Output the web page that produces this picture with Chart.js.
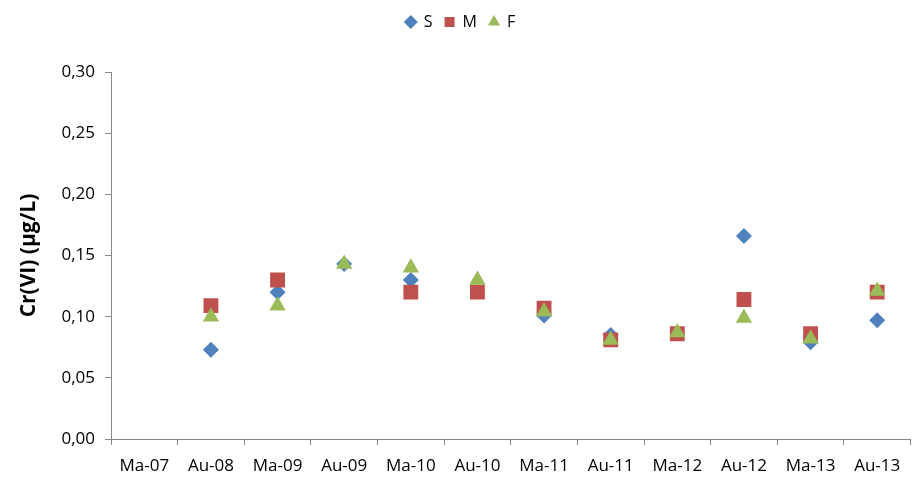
<!DOCTYPE html>
<html>
<head>
<meta charset="utf-8">
<script src="https://cdn.jsdelivr.net/npm/chart.js@4/dist/chart.umd.min.js"></script>
<style>
  body { margin: 0; background: #fff; }
  #wrap { width: 921px; height: 480px; }
</style>
</head>
<body>
<div id="wrap"><canvas id="myChart"></canvas></div>
<script>
// sampling campaigns (Ma = March, Au = August)
var labels = ["Ma-07", "Au-08", "Ma-09", "Au-09", "Ma-10", "Au-10", "Ma-11", "Au-11", "Ma-12", "Au-12", "Ma-13", "Au-13"];
var sValues = [null, 0.073, 0.120, 0.143, 0.130, null, 0.101, 0.085, null, 0.166, 0.079, 0.097];
var mValues = [null, 0.109, 0.130, null, 0.120, 0.120, 0.107, 0.081, 0.086, 0.114, 0.086, 0.120];
var fValues = [null, 0.100, 0.109, 0.143, 0.140, 0.130, 0.104, 0.081, 0.087, 0.099, 0.082, 0.121];
var yTicks = [0, 0.05, 0.10, 0.15, 0.20, 0.25, 0.30];

var font = "'Open Sans', 'Noto Sans', sans-serif";
var axisGrey = '#888888';

function series(name, values, color, style, r, order) {
    return {
        label: name,
        data: values,
        showLine: false,
        order: order,
        pointStyle: style,
        pointRadius: r,
        pointHoverRadius: r,
        backgroundColor: color,
        borderColor: color,
        borderWidth: 0
    };
}

// push the plot down below the legend, like the excel layout
const legendGap = {
    id: 'legendGap',
    beforeInit: function (chart) {
        const fit = chart.legend.fit;
        chart.legend.fit = function () {
            fit.bind(chart.legend)();
            this.height += 32;
        };
    }
};

const config = {
    type: 'line',
    data: {
        labels: labels,
        datasets: [
            series("S", sValues, '#4F81BD', 'rectRot', 8, 3),
            series("M", mValues, '#C0504D', 'rect', 10.5, 2),
            series("F", fValues, '#9BBB59', 'triangle', 9.5, 1)
        ]
    },
    options: {
        responsive: true,
        maintainAspectRatio: false,
        animation: false,
        layout: { padding: { left: 10, right: 10, top: 2, bottom: 4 } },
        plugins: {
            legend: {
                position: 'top',
                labels: {
                    usePointStyle: true,
                    boxWidth: 10,
                    boxHeight: 10,
                    padding: 12,
                    color: '#000',
                    font: { family: font, size: 16 },
                    sort: function (a, b) { return a.datasetIndex - b.datasetIndex; }
                }
            },
            tooltip: { enabled: false }
        },
        scales: {
            x: {
                type: 'category',
                offset: true,
                grid: {
                    offset: true,
                    drawOnChartArea: false,
                    drawTicks: true,
                    tickLength: 6,
                    color: axisGrey
                },
                border: { color: axisGrey, width: 1 },
                ticks: {
                    color: '#000',
                    maxRotation: 0,
                    autoSkip: false,
                    padding: 11,
                    font: { family: font, size: 17 }
                },
                afterFit: function (scale) { scale.height = 37; }
            },
            y: {
                min: 0,
                max: 0.30,
                afterBuildTicks: function (scale) {
                    scale.ticks = yTicks.map(function (v) { return { value: v }; });
                },
                grid: {
                    drawOnChartArea: false,
                    drawTicks: true,
                    tickLength: 6,
                    color: axisGrey
                },
                border: { color: axisGrey, width: 1 },
                ticks: {
                    color: '#000',
                    padding: 10,
                    font: { family: font, size: 17 },
                    callback: function (v) { return v.toFixed(2).replace('.', ','); }
                },
                title: {
                    display: true,
                    text: 'Cr(VI) (µg/L)',
                    color: '#000',
                    font: { family: font, size: 21, weight: 'bold' },
                    padding: { top: 6, bottom: 4 }
                },
                afterFit: function (scale) { scale.width = 101; }
            }
        }
    },
    plugins: [legendGap]
};

var myChart = new Chart(document.getElementById('myChart'), config);
</script>
</body>
</html>
